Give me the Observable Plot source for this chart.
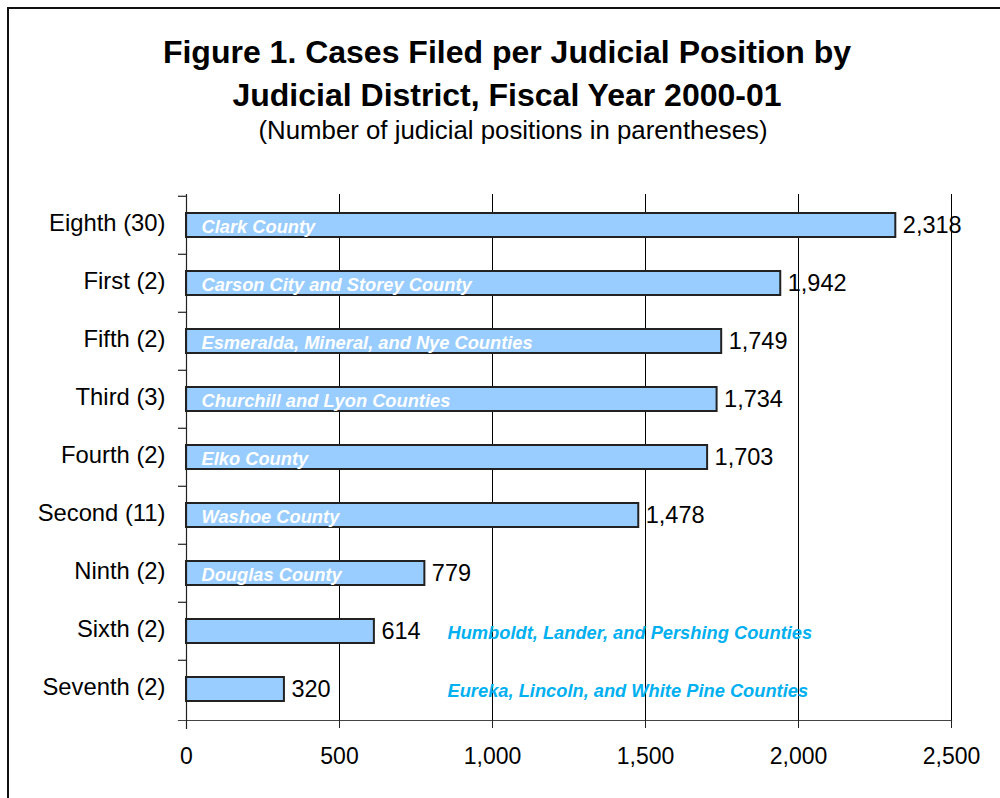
<!DOCTYPE html>
<html>
<head>
<meta charset="utf-8">
<script src="https://cdn.jsdelivr.net/npm/d3@7"></script>
<script src="https://cdn.jsdelivr.net/npm/@observablehq/plot@0.6"></script>
<style>
  html, body { margin: 0; padding: 0; background: #fff; }
  #wrap { position: relative; width: 1000px; height: 798px; overflow: hidden; font-family: Arial, "Liberation Sans", sans-serif; }
  #border { position: absolute; left: 7px; top: 7px; width: 2000px; height: 2000px; border-top: 2px solid #111; border-left: 2px solid #111; }
  #title { position: absolute; left: 14px; top: 31px; width: 986px; text-align: center; font-weight: bold; font-size: 32px; line-height: 43px; color: #000; }
  #subtitle { position: absolute; left: 20px; top: 116px; width: 986px; text-align: center; font-size: 25.8px; color: #000; }
  #chart { position: absolute; left: 0; top: 170px; }
</style>
</head>
<body>
<div id="wrap">
  <div id="border"></div>
  <div id="title">Figure 1. Cases Filed per Judicial Position by<br>Judicial District, Fiscal Year 2000-01</div>
  <div id="subtitle">(Number of judicial positions in parentheses)</div>
  <div id="chart"></div>
</div>
<script>
const districts = ["Eighth (30)", "First (2)", "Fifth (2)", "Third (3)", "Fourth (2)", "Second (11)", "Ninth (2)", "Sixth (2)", "Seventh (2)"];
const values = [2318, 1942, 1749, 1734, 1703, 1478, 779, 614, 320];
const counties = [
  "Clark County",
  "Carson City and Storey County",
  "Esmeralda, Mineral, and Nye Counties",
  "Churchill and Lyon Counties",
  "Elko County",
  "Washoe County",
  "Douglas County",
  "Humboldt, Lander, and Pershing Counties",
  "Eureka, Lincoln, and White Pine Counties"
];
const labelInside = [true, true, true, true, true, true, true, false, false];
const xTicks = [0, 500, 1000, 1500, 2000, 2500];

const data = districts.map((d, i) => ({district: d, value: values[i], county: counties[i], inside: labelInside[i]}));
const step = (720 - 194) / districts.length;

const chart = Plot.plot({
  width: 1000,
  height: 628,
  marginTop: 24,
  marginBottom: 78,
  marginLeft: 186,
  marginRight: 49,
  style: {fontFamily: "Arial, 'Liberation Sans', sans-serif", background: "transparent", color: "#000"},
  x: {domain: [0, 2500]},
  y: {type: "band", domain: districts, paddingInner: 0.58, paddingOuter: 0.29},
  marks: [
    Plot.ruleX(xTicks.slice(1), {stroke: "#000", strokeWidth: 1}),
    Plot.barX(data, {y: "district", x: "value", fill: "#99CCFF", stroke: "#222", strokeWidth: 2}),
    Plot.frame({anchor: "bottom", stroke: "#444", strokeWidth: 1.2, insetLeft: -8}),
    Plot.frame({anchor: "left", stroke: "#222", strokeWidth: 1.2, insetBottom: -8}),
    Plot.ruleY(districts, {y: d => d, x1: 0, x2: 0, insetLeft: -8, dy: -step / 2, stroke: "#222", strokeWidth: 1.2}),
    Plot.axisX({ticks: xTicks, tickFormat: d3.format(","), tickSize: 8, tickPadding: 19, fontSize: 23, label: null, stroke: "#222", style: {letterSpacing: "1px"}}),
    Plot.axisY({tickSize: 0, tickPadding: 21, fontSize: 23.8, dy: -2, label: null, style: {letterSpacing: "1px"}}),
    Plot.text(data, {y: "district", x: "value", text: d => d3.format(",")(d.value), textAnchor: "start", dx: 7, fontSize: 23.5, fill: "#000", style: {letterSpacing: "1px"}}),
    Plot.text(data.filter(d => d.inside), {y: "district", x: 0, text: "county", textAnchor: "start", dx: 15, dy: 2, fontSize: 18.3, fontWeight: "bold", fontStyle: "italic", fill: "#fff"}),
    Plot.text(data.filter(d => !d.inside), {y: "district", x: 0, text: "county", textAnchor: "start", dx: 261, dy: 2, fontSize: 18.3, fontWeight: "bold", fontStyle: "italic", fill: "#00B0F0"})
  ]
});
document.getElementById("chart").appendChild(chart);
</script>
</body>
</html>
